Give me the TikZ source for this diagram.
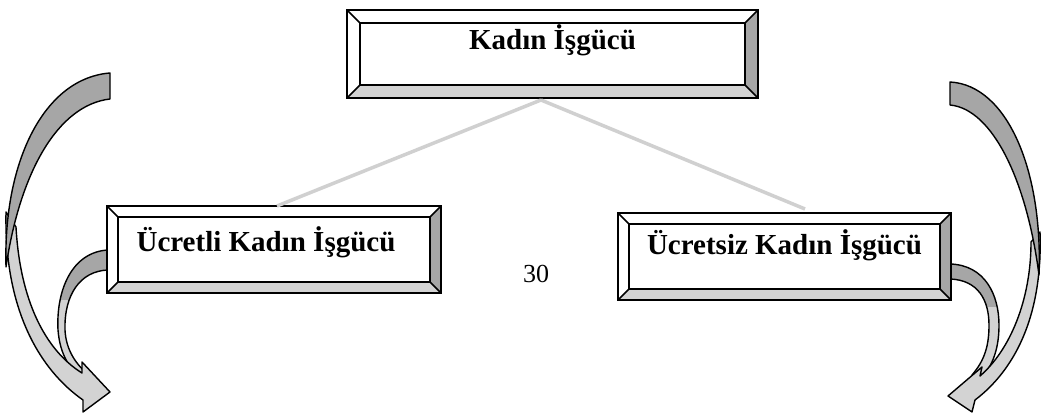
\documentclass[tikz,border=0pt]{standalone}
\usepackage{fontspec}
\setmainfont{Liberation Serif}
\usetikzlibrary{calc}
\definecolor{darkg}{HTML}{A6A6A6}
\definecolor{lightg}{HTML}{D3D3D3}
\definecolor{lineg}{HTML}{D0D0D0}
\tikzset{
  bevbox/.style={draw, line width=2.6pt, fill=white, inner sep=0pt, outer sep=0pt,
    font=\fontsize{29}{34}\selectfont\bfseries, text height=20pt,
    path picture={
      \path (path picture bounding box.south west) coordinate (bvsw)
            (path picture bounding box.south east) coordinate (bvse)
            (path picture bounding box.north east) coordinate (bvne)
            (path picture bounding box.north west) coordinate (bvnw);
      \fill[lightg] (bvsw) -- (bvse) -- ([shift={(-#1,#1)}]bvse) -- ([shift={(#1,#1)}]bvsw) -- cycle;
      \fill[darkg] (bvse) -- (bvne) -- ([shift={(-#1,-#1)}]bvne) -- ([shift={(-#1,#1)}]bvse) -- cycle;
      \draw[line width=1.6pt] (bvsw) -- ([shift={(#1,#1)}]bvsw)
                              (bvse) -- ([shift={(-#1,#1)}]bvse)
                              (bvne) -- ([shift={(-#1,-#1)}]bvne)
                              (bvnw) -- ([shift={(#1,-#1)}]bvnw);
      \draw[line width=2.2pt] ([shift={(#1,#1)}]bvsw) rectangle ([shift={(-#1,-#1)}]bvne);
    }},
  bevbox/.default=12,
  arrowband/.style={draw=black, line width=1.4pt, line join=round},
  connector/.style={draw=lineg, line width=3.5pt},
}
\begin{document}
\begin{tikzpicture}[x=1pt,y=1pt]
\useasboundingbox (0,0) rectangle (1041,417);
\fill[white] (0,0) rectangle (1041,417);

% left small arrow
\path[arrowband, fill=lightg, path picture={\fill[darkg] (0,117) rectangle (130,200);}]
  (108,167) .. controls (72,165) and (56,127) .. (58,87)
  .. controls (60,62) and (70,45) .. (90,32) -- (90,41)
  .. controls (76,52) and (66,67) .. (65,87)
  .. controls (64,122) and (80,146) .. (108,147) -- cycle;
% left big arrow
\path[arrowband, fill=lightg]
  (6,205) .. controls (4,107) and (40,47) .. (83,17) -- (83,5) -- (110,25) -- (82,55) -- (82,44)
  .. controls (45,67) and (20,117) .. (16,190) -- cycle;
\path[arrowband, fill=darkg]
  (110,344) .. controls (45,339) and (3,257) .. (6,150)
  .. controls (20,245) and (58,312) .. (110,318) -- cycle;

% right small arrow
\path[arrowband, fill=lightg, path picture={\fill[darkg] (930,110) rectangle (1041,200);}]
  (950,153) .. controls (985,152) and (999,122) .. (999,92)
  .. controls (999,67) and (992,49) .. (978,35) -- (972,42)
  .. controls (985,57) and (989,72) .. (989,92)
  .. controls (989,117) and (978,137) .. (950,138) -- cycle;
% right big arrow
\path[arrowband, fill=lightg]
  (1040,185) .. controls (1043,97) and (1012,45) .. (975,17) -- (972,5) -- (948,21) -- (982,50) -- (980,41)
  .. controls (1010,67) and (1031,117) .. (1031,175) -- cycle;
\path[arrowband, fill=darkg]
  (950,335) .. controls (1007,332) and (1043,247) .. (1039,142)
  .. controls (1027,235) and (993,308) .. (950,312) -- cycle;

% boxes
\node[bevbox=13, minimum width=411pt, minimum height=88pt, text depth=28pt] (top) at (552.5,363) {Kadın İşgücü};
\node[bevbox=11, minimum width=334pt, minimum height=87pt, text depth=15pt] (ucretli) at (274,167.5) {Ücretli Kadın İşgücü\hspace*{16pt}};
\node[bevbox=11, minimum width=333pt, minimum height=87pt, text depth=23pt] (ucretsiz) at (784.5,160.5) {Ücretsiz Kadın İşgücü};

% connectors
\coordinate (apex) at ([shift={(-11.5,-2)}]top.south);
\draw[connector] (apex) -- ([xshift=3pt]ucretli.north);
\draw[connector] (apex) -- ([shift={(20.5,4)}]ucretsiz.north);

\node[anchor=base, font=\fontsize{26}{30}\selectfont] (page) at (536,134) {30};
\end{tikzpicture}
\end{document}
